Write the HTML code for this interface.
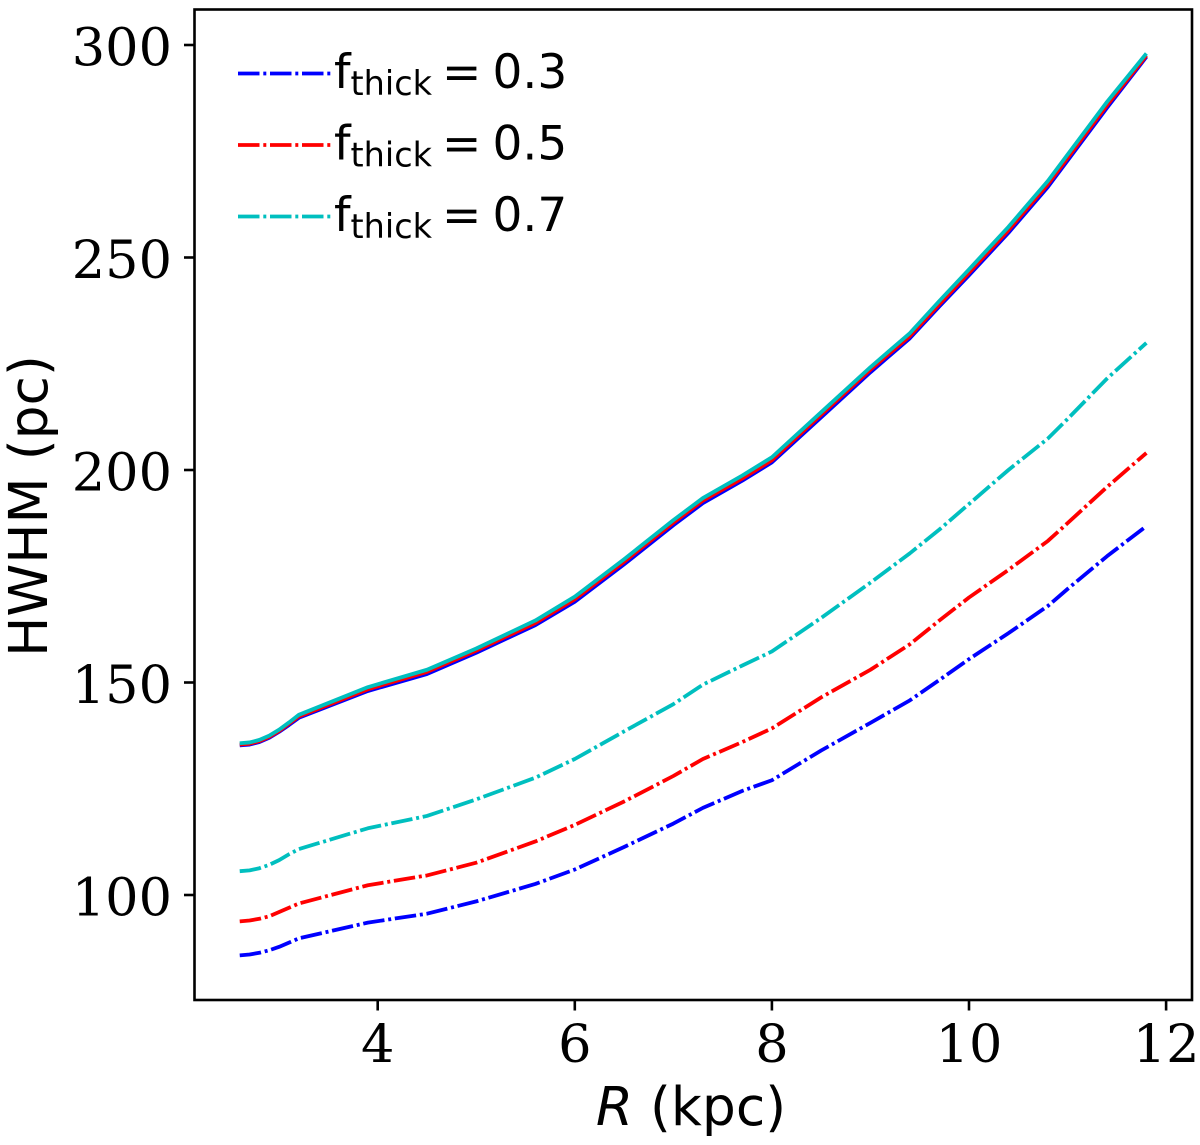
<!DOCTYPE html>
<html>
<head>
<meta charset="utf-8">
<title>HWHM vs R</title>
<style>
html,body{margin:0;padding:0;background:#fff;width:1200px;height:1145px;overflow:hidden}
svg{display:block}
.tick{font-family:"DejaVu Serif",serif;font-size:52.5px;fill:#000}
.lab{font-family:"DejaVu Sans",sans-serif;font-size:53.5px;fill:#000}
.leg{font-family:"DejaVu Sans",sans-serif;font-size:47px;fill:#000}
.sub{font-size:33.5px}
</style>
</head>
<body>
<svg id="chart" width="1200" height="1145" viewBox="0 0 1200 1145" xmlns="http://www.w3.org/2000/svg">
  <g id="series"></g>
  <rect x="194.5" y="9.5" width="997.5" height="990.5" fill="none" stroke="#000" stroke-width="2.6"></rect>
  <g id="ticks"></g>
  <text class="lab" x="691" y="1125" text-anchor="middle"><tspan font-style="italic">R</tspan> (kpc)</text>
  <text class="lab" transform="translate(47,506) rotate(-90)" text-anchor="middle">HWHM (pc)</text>
  <g>
    <line x1="238" x2="333" y1="73.5" y2="73.5" stroke="#0000ff" stroke-width="3.8" stroke-dasharray="21.5 3.8 3 3.7"></line>
    <text class="leg" x="334" y="88">f<tspan class="sub" dy="7">thick</tspan><tspan x="442" dy="-7">=</tspan><tspan x="492.5">0.3</tspan></text>
    <line x1="238" x2="333" y1="145" y2="145" stroke="#ff0000" stroke-width="3.8" stroke-dasharray="21.5 3.8 3 3.7"></line>
    <text class="leg" x="334" y="159.5">f<tspan class="sub" dy="7">thick</tspan><tspan x="442" dy="-7">=</tspan><tspan x="492.5">0.5</tspan></text>
    <line x1="238" x2="333" y1="216.5" y2="216.5" stroke="#00bfbf" stroke-width="3.8" stroke-dasharray="21.5 3.8 3 3.7"></line>
    <text class="leg" x="334" y="231">f<tspan class="sub" dy="7">thick</tspan><tspan x="442" dy="-7">=</tspan><tspan x="492.5">0.7</tspan></text>
  </g>
</svg>
<script>
const radius = [2.6,2.7,2.8,2.9,3.0,3.1,3.2,3.9,4.5,5.0,5.6,6.0,6.5,7.0,7.3,7.7,8.0,8.5,9.0,9.4,9.7,10.0,10.4,10.8,11.0,11.4,11.8];
const thinBlue = [135.2,135.4,136,137,138.4,140,141.7,148,152,157,163.5,169,177.8,187,192.2,197.5,201.8,212.4,223,231,238.5,245.8,255.8,266.6,272.8,285.2,297.2];
const thinRed = [135.4,135.6,136.2,137.2,138.6,140.3,142,148.4,152.5,157.5,164,169.6,178.4,187.6,192.8,198,202.3,213,223.6,231.5,239,246.4,256.4,267.2,273.4,285.8,297.5];
const thinCyan = [135.7,135.9,136.5,137.5,138.9,140.6,142.4,148.9,153,158,164.6,170.2,179,188.2,193.4,198.7,203,213.6,224.2,232.2,239.8,247.2,257.2,268,274.2,286.6,298];
const dashBlue = [85.8,86,86.4,87,87.8,88.8,89.8,93.5,95.6,98.5,102.6,106,111.3,116.8,120.5,124.5,127,134,140.5,145.8,150.6,155.5,161.6,168,172,179.7,186.8];
const dashRed = [93.8,94,94.4,95,96,97,98,102.3,104.6,107.6,112.6,116.5,122,128,132,136,139.2,146.5,153,159,164.6,170,176.5,183.3,187.5,196,204];
const dashCyan = [105.6,105.8,106.3,107.1,108.2,109.6,110.8,115.7,118.6,122.5,127.6,132,138.5,144.9,149.5,154,157.3,165.2,173.5,180.4,186,192,200,207.4,212,221.5,229.9];
const xTicks = [4,6,8,10,12];
const yTicks = [100,150,200,250,300];

const NS = 'http://www.w3.org/2000/svg';
function xScale(v){ return 377.7 + (v - 4) * 98.55; }
function yScale(v){ return 895 - (v - 100) * 4.25; }

const seriesGroup = document.getElementById('series');
const tickGroup = document.getElementById('ticks');

function drawLine(values, colour, width, dashed, name){
  const p = document.createElementNS(NS, 'path');
  let d = '';
  for (let i = 0; i < radius.length; i++) {
    d += (i ? 'L' : 'M') + xScale(radius[i]).toFixed(2) + ' ' + yScale(values[i]).toFixed(2);
  }
  p.setAttribute('d', d);
  p.setAttribute('fill', 'none');
  p.setAttribute('stroke', colour);
  p.setAttribute('stroke-width', width);
  p.setAttribute('stroke-linejoin', 'round');
  if (dashed) p.setAttribute('stroke-dasharray', '21.5 3.8 3 3.7');
  
  
  seriesGroup.appendChild(p);
}

drawLine(dashBlue, '#0000ff', 3.8, true, 'line-dashed-fthick-0-3');
drawLine(thinBlue, '#0000ff', 3.8, false, 'line-solid-blue');
drawLine(dashRed, '#ff0000', 3.8, true, 'line-dashed-fthick-0-5');
drawLine(thinRed, '#ff0000', 3.8, false, 'line-solid-red');
drawLine(dashCyan, '#00bfbf', 3.8, true, 'line-dashed-fthick-0-7');
drawLine(thinCyan, '#00bfbf', 3.8, false, 'line-solid-cyan');

xTicks.forEach(function(v){
  const x = xScale(v);
  const t = document.createElementNS(NS, 'line');
  t.setAttribute('x1', x);
  t.setAttribute('x2', x);
  t.setAttribute('y1', 1000);
  t.setAttribute('y2', 1010.5);
  t.setAttribute('stroke', '#000');
  t.setAttribute('stroke-width', 2.6);
  
  
  tickGroup.appendChild(t);
  const l = document.createElementNS(NS, 'text');
  l.setAttribute('x', x);
  l.setAttribute('y', 1062);
  l.setAttribute('text-anchor', 'middle');
  l.setAttribute('class', 'tick');
  
  
  l.textContent = v;
  tickGroup.appendChild(l);
});

yTicks.forEach(function(v){
  const y = yScale(v);
  const t = document.createElementNS(NS, 'line');
  t.setAttribute('x1', 184);
  t.setAttribute('x2', 194.5);
  t.setAttribute('y1', y);
  t.setAttribute('y2', y);
  t.setAttribute('stroke', '#000');
  t.setAttribute('stroke-width', 2.6);
  
  
  tickGroup.appendChild(t);
  const l = document.createElementNS(NS, 'text');
  l.setAttribute('x', 172);
  l.setAttribute('y', y + 20.5);
  l.setAttribute('text-anchor', 'end');
  l.setAttribute('class', 'tick');
  
  
  l.textContent = v;
  tickGroup.appendChild(l);
});
</script>
</body>
</html>
